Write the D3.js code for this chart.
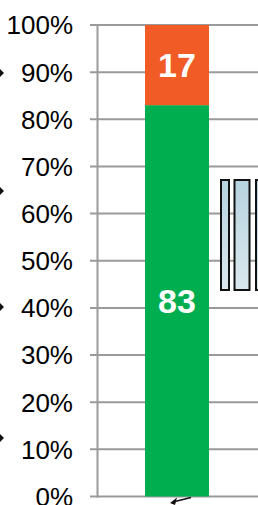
<!DOCTYPE html>
<html><head><meta charset="utf-8">
<script src="https://cdn.jsdelivr.net/npm/d3@7"></script>
<style>html,body{margin:0;padding:0;background:#fff;overflow:hidden}svg{display:block}</style>
</head><body>
<svg id="c" width="258" height="505"></svg>
<script>
const categories = ["Share"];
const seriesNames = ["Bottom", "Top"];
const bottomValues = [83];
const topValues = [17];
const seriesColors = ["#00AE4F", "#F15B25"];
const tickValues = [0,10,20,30,40,50,60,70,80,90,100];
const tickLabels = ["0%","10%","20%","30%","40%","50%","60%","70%","80%","90%","100%"];

const svg = d3.select("#c");
const y = d3.scaleLinear().domain([0,100]).range([496.5,25]);
const x = d3.scaleBand().domain(categories).range([112,242]).paddingInner(0).paddingOuter(0.25);

// gridlines
svg.append("g").selectAll("line").data(tickValues).join("line")
  .attr("x1",90).attr("x2",258)
  .attr("y1",d=>y(d)).attr("y2",d=>y(d))
  .attr("stroke","#9a9a9a").attr("stroke-width",2);

// axis line
svg.append("line").attr("x1",97.5).attr("x2",97.5).attr("y1",y(100)-1).attr("y2",y(0)+1)
  .attr("stroke","#9a9a9a").attr("stroke-width",2);

// tick labels
svg.append("g").selectAll("text").data(tickValues).join("text")
  .attr("x",73).attr("y",d=>y(d)).attr("dy","0.36em")
  .attr("text-anchor","end")
  .attr("font-family","Liberation Sans, Arial, sans-serif")
  .attr("font-size",26).attr("fill","#000")
  .text((d,i)=>tickLabels[i]);

// stacked bars
const rows = categories.map((c,i)=>({cat:c, Bottom:bottomValues[i], Top:topValues[i]}));
const stack = d3.stack().keys(seriesNames)(rows);
const bw = 64;
stack.forEach((s,si)=>{
  const g = svg.append("g");
  g.selectAll("rect").data(s).join("rect")
    .attr("x",d=>x(d.data.cat)+x.bandwidth()/2-bw/2)
    .attr("width",bw)
    .attr("y",d=>y(d[1])).attr("height",d=>y(d[0])-y(d[1]))
    .attr("fill",seriesColors[si]);
  g.selectAll("text").data(s).join("text")
    .attr("x",d=>x(d.data.cat)+x.bandwidth()/2)
    .attr("y",d=>(y(d[0])+y(d[1]))/2).attr("dy","0.36em")
    .attr("text-anchor","middle")
    .attr("font-family","Liberation Sans, Arial, sans-serif")
    .attr("font-weight","bold").attr("font-size",34).attr("fill","#fff")
    .text(d=>d[1]-d[0]);
});

// decorative cropped elements on the right (boxes)
const defs = svg.append("defs");
const grad = defs.append("linearGradient").attr("id","bg").attr("x1",0).attr("x2",0).attr("y1",0).attr("y2",1);
grad.append("stop").attr("offset","0%").attr("stop-color","#b6d3df");
grad.append("stop").attr("offset","100%").attr("stop-color","#dbe8ee");
const boxes = [[221,8],[234.5,15],[256,8]];
svg.append("g").selectAll("rect").data(boxes).join("rect")
  .attr("x",d=>d[0]).attr("width",d=>d[1])
  .attr("y",180).attr("height",110)
  .attr("fill","url(#bg)").attr("stroke","#111").attr("stroke-width",2);

// left cropped fragments
[73,191,307,438].forEach(yy=>{
  svg.append("path").attr("d",`M0,${yy-4} L4,${yy} L0,${yy+4} Z`).attr("fill","#111");
});

// bottom arrow fragment
svg.append("line").attr("x1",191).attr("y1",497.5).attr("x2",173).attr("y2",502)
  .attr("stroke","#111").attr("stroke-width",1.5);
svg.append("path").attr("d","M170,503 L177,497.5 L175,505 Z").attr("fill","#111");
</script>
</body></html>
